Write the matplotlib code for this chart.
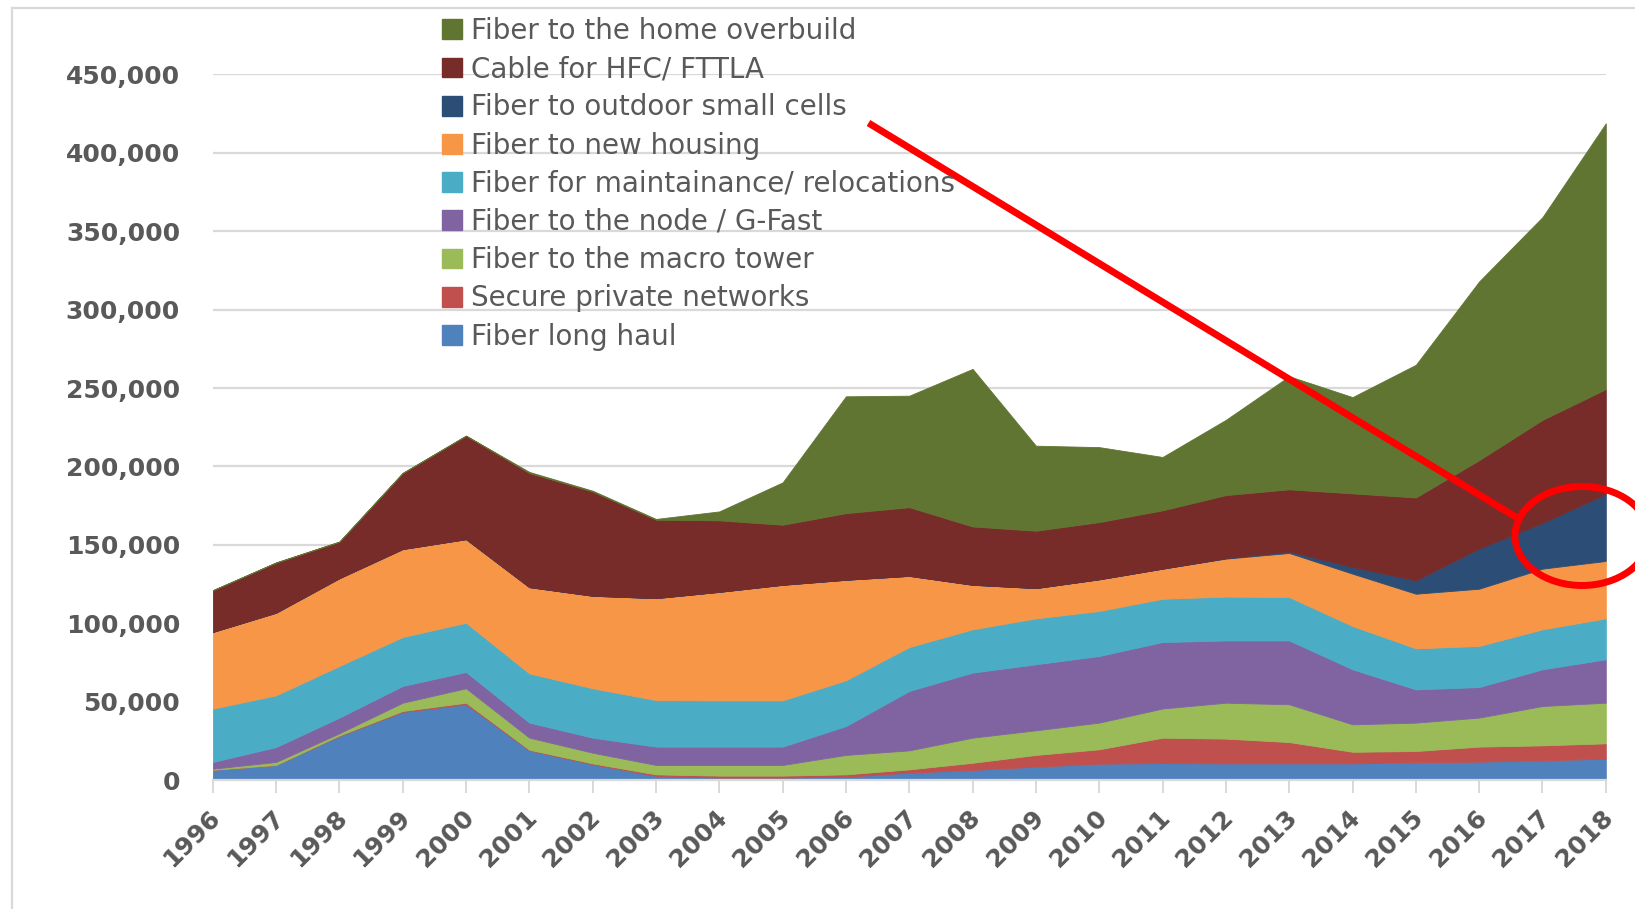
import matplotlib
matplotlib.use("Agg")
import matplotlib.pyplot as plt
from matplotlib.patches import Patch, Rectangle, Ellipse
from matplotlib.lines import Line2D
from matplotlib.ticker import FuncFormatter
import matplotlib.transforms as mtransforms

years = list(range(1996, 2019))

# values in units, stacked bottom -> top
fiber_long_haul = [6500, 9600, 28000, 43400, 48300, 18900, 10000, 2600, 1500, 1500, 2100, 4700,
                   6400, 8500, 10400, 10800, 10600, 10600, 10600, 11300, 11700, 12500, 13600]
secure_private = [0, 0, 400, 600, 1000, 400, 600, 1000, 1300, 1300, 1500, 2100,
                  4600, 7500, 9200, 16200, 15800, 13600, 7400, 7200, 9600, 9600, 9800]
macro_tower = [700, 1900, 1400, 5300, 9200, 7700, 6800, 6000, 6800, 6800, 12400, 12100,
               16000, 15700, 17000, 18600, 22900, 24100, 17500, 18100, 18500, 25100, 25900]
node_gfast = [4300, 9500, 10000, 10700, 10400, 9600, 9600, 11700, 11700, 11700, 18400, 37900,
              41500, 42100, 42500, 42400, 39700, 40700, 35100, 21200, 19500, 23400, 27700]
maintenance = [34000, 33000, 32900, 31200, 31400, 31400, 31500, 29700, 29500, 29500, 29200, 28000,
               27600, 29300, 28700, 27600, 28000, 27700, 27600, 26200, 26200, 25500, 26100]
new_housing = [48900, 52700, 56000, 56100, 53300, 55000, 59000, 65000, 69200, 73700, 64100, 45400,
               28400, 19300, 20200, 19200, 24200, 28100, 33400, 34800, 36500, 38700, 36600]
small_cells = [0, 0, 0, 0, 0, 0, 0, 0, 0, 0, 0, 0,
               0, 0, 0, 0, 300, 1000, 4300, 8500, 25600, 29200, 42700]
cable_hfc = [26600, 32000, 23300, 48500, 66000, 72800, 66500, 50000, 45600, 38300, 42500, 43800,
             37200, 36600, 36500, 37200, 40200, 39600, 46900, 52900, 56400, 65700, 66900]
ftth_overbuild = [0, 0, 0, 0, 0, 700, 500, 500, 5700, 27000, 74500, 71100,
                  100500, 54200, 47800, 34000, 48000, 72100, 61400, 84600, 114000, 129300, 169500]

series = [fiber_long_haul, secure_private, macro_tower, node_gfast, maintenance,
          new_housing, small_cells, cable_hfc, ftth_overbuild]
labels = ["Fiber long haul", "Secure private networks", "Fiber to the macro tower",
          "Fiber to the node / G-Fast", "Fiber for maintainance/ relocations",
          "Fiber to new housing", "Fiber to outdoor small cells", "Cable for HFC/ FTTLA",
          "Fiber to the home overbuild"]
colors = ["#4F81BD", "#C0504D", "#9BBB59", "#8064A2", "#4BACC6",
          "#F79646", "#2C4D75", "#772C2A", "#617532"]

W, H = 1635, 909
fig = plt.figure(figsize=(W / 100, H / 100), dpi=100)
fig.patch.set_facecolor("white")

ax = fig.add_axes([212.7 / W, 1 - 780 / H, (1605.8 - 212.7) / W, (780 - 74.4) / H])

polys = ax.stackplot(years, *series, colors=colors, labels=labels, linewidth=0.6, zorder=2)
for p, c in zip(polys, colors):
    p.set_edgecolor(c)

ax.set_xlim(1996, 2018)
ax.set_ylim(0, 450000)
ax.set_yticks(range(0, 450001, 50000))
ax.yaxis.set_major_formatter(FuncFormatter(lambda v, _: f"{int(v):,}"))
ax.set_xticks(years)
ax.set_xticklabels([str(y) for y in years], rotation=45, ha="right", va="center",
                   rotation_mode="anchor")

grey_txt = "#595959"
grid_c = "#D9D9D9"
ax.grid(axis="y", color=grid_c, linewidth=1.6, zorder=0)
ax.set_axisbelow(True)
for s in ["left", "right", "top"]:
    ax.spines[s].set_visible(False)
ax.spines["bottom"].set_color(grid_c)
ax.spines["bottom"].set_linewidth(1.6)
ax.spines["bottom"].set_zorder(3)

ax.tick_params(axis="y", length=0, pad=23.5, labelsize=18, labelcolor=grey_txt)
ax.tick_params(axis="x", length=9, width=1.4, color=grid_c, pad=15,
               labelsize=18, labelcolor=grey_txt)
shift = mtransforms.ScaledTranslation(4 / 100, 0, fig.dpi_scale_trans)
for t in ax.get_xticklabels():
    t.set_fontweight("bold")
    t.set_transform(t.get_transform() + shift)
for t in ax.get_yticklabels():
    t.set_fontweight("bold")

handles = [Patch(facecolor=c, edgecolor=c) for c in colors][::-1]
leg = fig.legend(handles, labels[::-1], loc="upper left",
                 bbox_to_anchor=(442 / W, 1 - 17.0 / H), frameon=False,
                 fontsize=20, handlelength=0.72, handleheight=0.72,
                 handletextpad=0.31, labelspacing=0.367, borderpad=0, borderaxespad=0)
for t in leg.get_texts():
    t.set_color(grey_txt)

# outer chart border (light grey)
fig.patches.append(Rectangle((11.5 / W, -0.2), 1.5, 1.2 - 7.5 / H, transform=fig.transFigure,
                             fill=False, edgecolor=grid_c, linewidth=1.6, clip_on=False))

# red annotation
red = "#FF0000"
fig.lines.append(Line2D([868.5 / W, 1519 / W], [1 - 123 / H, 1 - 519 / H],
                        transform=fig.transFigure, color=red, linewidth=5, solid_capstyle="butt"))
fig.patches.append(Ellipse((1582 / W, 1 - 536 / H), 134 / W, 99 / H, transform=fig.transFigure,
                           fill=False, edgecolor=red, linewidth=5))

fig.savefig("out.png", dpi=100, facecolor="white")
